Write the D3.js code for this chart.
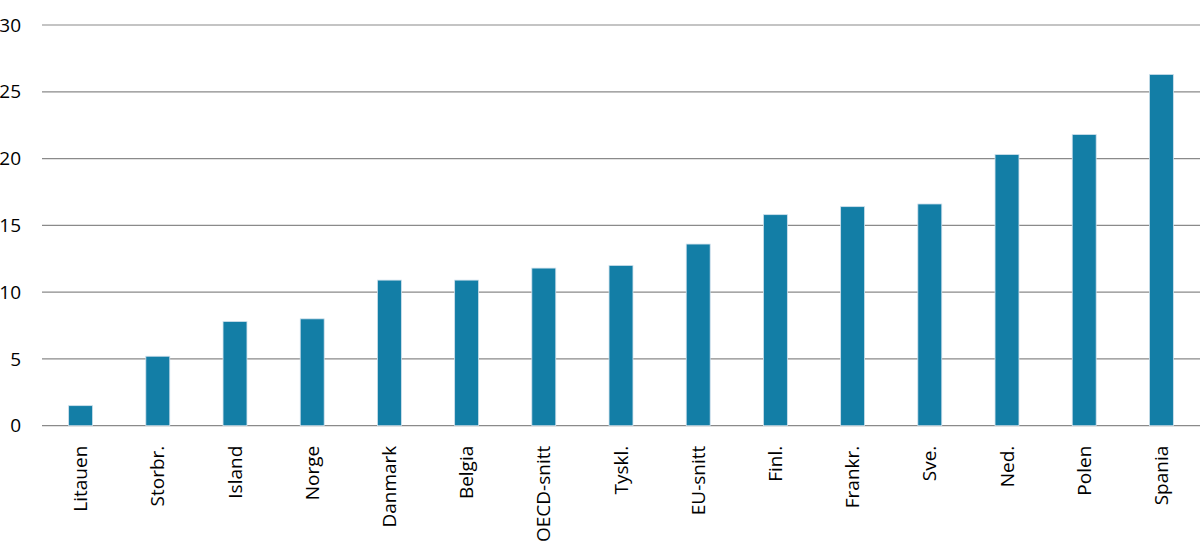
<!DOCTYPE html>
<html><head><meta charset="utf-8">
<script src="https://cdn.jsdelivr.net/npm/d3@7"></script>
<style>body{margin:0;background:#fff;} text{font-family:"Open Sans",sans-serif;}</style>
</head><body><svg id="c" width="1200" height="558"></svg>
<script>
const categories = ["Litauen","Storbr.","Island","Norge","Danmark","Belgia","OECD-snitt","Tyskl.","EU-snitt","Finl.","Frankr.","Sve.","Ned.","Polen","Spania"];
const values = [1.5,5.2,7.8,8.0,10.9,10.9,11.8,12.0,13.6,15.8,16.4,16.6,20.3,21.8,26.3];
const yTicks = [0,5,10,15,20,25,30];

(function(){
const svg = d3.select("#c");
const mLeft = 42, mRight = 1200, mTop = 25, mBottom = 425.7;
const x = d3.scaleBand().domain(categories).range([mLeft, mRight]).paddingInner(0.69).paddingOuter(0.345);
const y = d3.scaleLinear().domain([0,30]).range([mBottom, mTop]);

const grid = svg.append("g");
grid.selectAll("line").data(yTicks).enter().append("line")
  .attr("x1", mLeft).attr("x2", mRight)
  .attr("y1", d => y(d)).attr("y2", d => y(d))
  .attr("stroke", "#8a8a8a").attr("stroke-width", 1.2);

const yAxis = svg.append("g").attr("transform", `translate(${mLeft},0)`)
  .call(d3.axisLeft(y).tickValues(yTicks).tickSize(0).tickPadding(21));
yAxis.select(".domain").remove();
yAxis.selectAll("text").attr("font-size", 19).attr("fill", "#000").attr("font-family", "'Open Sans',sans-serif");

svg.append("g").selectAll("rect").data(values).enter().append("rect")
  .attr("x", (d,i) => x(categories[i]))
  .attr("width", x.bandwidth())
  .attr("y", d => y(d))
  .attr("height", d => mBottom - y(d))
  .attr("fill", "#137ea6")
  .attr("stroke", "#cfe0ec").attr("stroke-width", 0.8);

const xAxis = svg.append("g").attr("transform", `translate(0,${mBottom})`)
  .call(d3.axisBottom(x).tickSize(0).tickPadding(0));
xAxis.select(".domain").remove();
xAxis.selectAll("text")
  .attr("font-size", 19).attr("fill", "#000").attr("font-family", "'Open Sans',sans-serif")
  .attr("transform", "rotate(-90)")
  .attr("text-anchor", "end")
  .attr("x", -20).attr("y", 0).attr("dy", "0.35em");
})();
</script></body></html>
